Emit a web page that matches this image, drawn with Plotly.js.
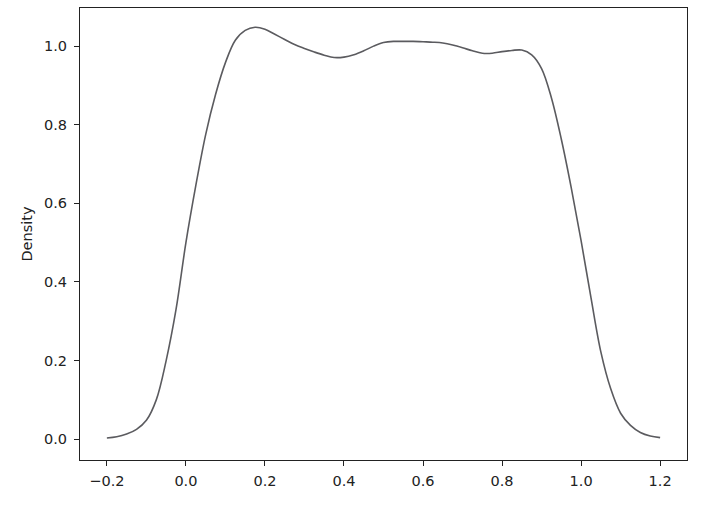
<!DOCTYPE html>
<html>
<head>
<meta charset="utf-8">
<script src="https://cdn.plot.ly/plotly-3.0.1.min.js"></script>
<style>html,body{margin:0;padding:0;background:#fff;}#chart{width:710px;height:506px;}</style>
</head>
<body>
<div id="chart"></div>
<script>
const xValues = [-0.2, -0.175, -0.15, -0.125, -0.1, -0.075, -0.05, -0.025, 0.0, 0.025, 0.05, 0.075, 0.1, 0.125, 0.15, 0.175, 0.2, 0.225, 0.25, 0.275, 0.3, 0.325, 0.35, 0.375, 0.4, 0.425, 0.45, 0.475, 0.5, 0.525, 0.55, 0.575, 0.6, 0.625, 0.65, 0.675, 0.7, 0.725, 0.75, 0.775, 0.8, 0.825, 0.85, 0.875, 0.9, 0.925, 0.95, 0.975, 1.0, 1.025, 1.05, 1.075, 1.1, 1.125, 1.15, 1.175, 1.2];
const densityValues = [0.003, 0.006, 0.013, 0.025, 0.048, 0.1, 0.2, 0.33, 0.5, 0.645, 0.775, 0.877, 0.958, 1.015, 1.04, 1.048, 1.043, 1.03, 1.017, 1.004, 0.994, 0.985, 0.977, 0.971, 0.972, 0.978, 0.988, 1.0, 1.009, 1.012, 1.012, 1.012, 1.011, 1.01, 1.008, 1.003, 0.996, 0.988, 0.982, 0.982, 0.986, 0.989, 0.99, 0.978, 0.943, 0.868, 0.763, 0.64, 0.505, 0.36, 0.222, 0.128, 0.066, 0.035, 0.017, 0.008, 0.004];
const xTicks = [-0.2, 0.0, 0.2, 0.4, 0.6, 0.8, 1.0, 1.2];
const xTickText = ['\u22120.2', '0.0', '0.2', '0.4', '0.6', '0.8', '1.0', '1.2'];
const yTicks = [0.0, 0.2, 0.4, 0.6, 0.8, 1.0];
const yTickText = ['0.0', '0.2', '0.4', '0.6', '0.8', '1.0'];

const trace = {
  x: xValues, y: densityValues, type: 'scatter', mode: 'lines',
  line: {color: '#5b5b5f', width: 1.6, shape: 'spline', smoothing: 1},
  hoverinfo: 'skip'
};
const font = {family: 'DejaVu Sans, sans-serif', size: 14.5, color: '#222'};
const layout = {
  width: 710, height: 506,
  margin: {l: 80, r: 23, t: 8, b: 46, pad: 0},
  paper_bgcolor: '#fff', plot_bgcolor: '#fff',
  showlegend: false, font: font,
  xaxis: {
    range: [-0.268, 1.268], tickvals: xTicks, ticktext: xTickText,
    showgrid: false, zeroline: false, showline: true, mirror: true,
    linecolor: '#222', linewidth: 1, ticks: 'outside', ticklen: 5, tickcolor: '#222',
    tickfont: font, ticklabelstandoff: 3
  },
  yaxis: {
    range: [-0.053, 1.097], tickvals: yTicks, ticktext: yTickText,
    showgrid: false, zeroline: false, showline: true, mirror: true,
    linecolor: '#222', linewidth: 1, ticks: 'outside', ticklen: 5, tickcolor: '#222',
    tickfont: font, ticklabelstandoff: 4,
    title: {text: 'Density', font: font, standoff: 7}
  }
};
Plotly.newPlot('chart', [trace], layout, {staticPlot: true, displayModeBar: false});
</script>
</body>
</html>
